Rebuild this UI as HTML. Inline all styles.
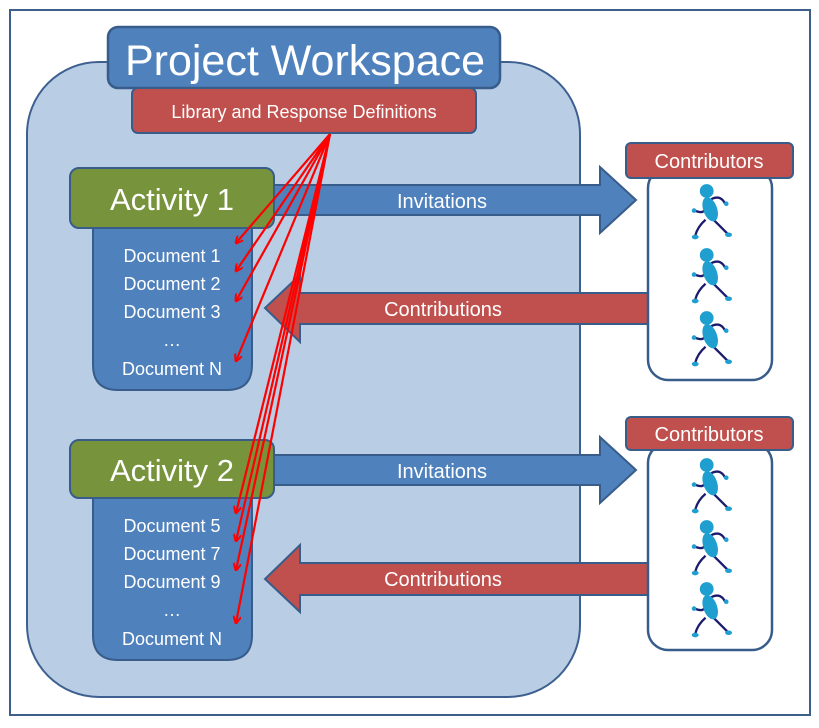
<!DOCTYPE html>
<html><head><style>
body{margin:0;background:#fff}
svg text{font-family:"Liberation Sans",sans-serif;fill:#fff}
</style></head><body>
<svg width="819" height="723" viewBox="0 0 819 723" xmlns="http://www.w3.org/2000/svg">
<defs>
<marker id="ah" markerWidth="8" markerHeight="8" refX="7" refY="4" orient="auto" markerUnits="userSpaceOnUse"><path d="M0,0 L8,4 L0,8" fill="none" stroke="#f00" stroke-width="2"/></marker>
<g id="fig" transform="scale(1.15)">
<path d="M-12,4 Q-4,8 -2,0 M2,-6 Q10,-10 14,-2 M-3,12 Q-10,18 -12,26 M4,12 Q10,18 16,24" stroke="#1b1b6e" stroke-width="2" fill="none"/>
<ellipse cx="0" cy="3" rx="6" ry="11" fill="#1e9fd0" transform="rotate(-20)"/>
<circle cx="-2" cy="-13" r="6" fill="#1e9fd0"/>
<circle cx="-13" cy="4" r="2" fill="#1e9fd0"/><circle cx="15" cy="-2" r="2" fill="#1e9fd0"/>
<ellipse cx="-12" cy="27" rx="3" ry="2" fill="#1e9fd0"/><ellipse cx="17" cy="25" rx="3" ry="2" fill="#1e9fd0"/>
</g>
</defs>
<rect x="10" y="10" width="800" height="705" fill="#fff" stroke="#3e5f8a" stroke-width="2"/>
<rect x="27" y="62" width="553" height="635" rx="72" fill="#b9cde5" stroke="#3e6090" stroke-width="2"/>
<rect x="108" y="27" width="392" height="61" rx="10" fill="#4f81bd" stroke="#385d8a" stroke-width="2.5"/>
<text x="305" y="75" font-size="43" text-anchor="middle">Project Workspace</text>
<rect x="132" y="88" width="344" height="45" rx="6" fill="#c0504d" stroke="#385d8a" stroke-width="2"/>
<text x="304" y="118" font-size="18" text-anchor="middle">Library and Response Definitions</text>

<path d="M93,228 H252 V365 Q252,390 227,390 H118 Q93,390 93,365 Z" fill="#4f81bd" stroke="#385d8a" stroke-width="2"/>
<g font-size="18" text-anchor="middle">
<text x="172" y="262">Document 1</text><text x="172" y="290">Document 2</text><text x="172" y="318">Document 3</text><text x="172" y="346">…</text><text x="172" y="375">Document N</text>
</g>
<rect x="70" y="168" width="204" height="60" rx="9" fill="#77933c" stroke="#385d8a" stroke-width="2"/>
<text x="172" y="210" font-size="31" text-anchor="middle">Activity 1</text>
<path d="M274,185 H600 V167 L636,200 L600,233 V215 H274 Z" fill="#4f81bd" stroke="#385d8a" stroke-width="2"/>
<text x="442" y="208" font-size="20" text-anchor="middle">Invitations</text>
<path d="M648,293 H300 V275 L265,308 L300,342 V324 H648 Z" fill="#c0504d" stroke="#385d8a" stroke-width="2"/>
<text x="443" y="316" font-size="20" text-anchor="middle">Contributions</text>
<rect x="648" y="168" width="124" height="212" rx="20" fill="#fff" stroke="#385d8a" stroke-width="2.5"/>
<rect x="626" y="143" width="167" height="35" rx="5" fill="#c0504d" stroke="#385d8a" stroke-width="2"/>
<text x="709" y="168" font-size="20" text-anchor="middle">Contributors</text>
<use href="#fig" x="709" y="206"/><use href="#fig" x="709" y="270"/><use href="#fig" x="709" y="333"/>

<path d="M93,498 H252 V635 Q252,660 227,660 H118 Q93,660 93,635 Z" fill="#4f81bd" stroke="#385d8a" stroke-width="2"/>
<g font-size="18" text-anchor="middle">
<text x="172" y="532">Document 5</text><text x="172" y="560">Document 7</text><text x="172" y="588">Document 9</text><text x="172" y="616">…</text><text x="172" y="645">Document N</text>
</g>
<rect x="70" y="440" width="204" height="58" rx="9" fill="#77933c" stroke="#385d8a" stroke-width="2"/>
<text x="172" y="481" font-size="31" text-anchor="middle">Activity 2</text>
<path d="M274,455 H600 V437 L636,470 L600,503 V485 H274 Z" fill="#4f81bd" stroke="#385d8a" stroke-width="2"/>
<text x="442" y="478" font-size="20" text-anchor="middle">Invitations</text>
<path d="M648,563 H300 V545 L265,579 L300,612 V595 H648 Z" fill="#c0504d" stroke="#385d8a" stroke-width="2"/>
<text x="443" y="586" font-size="20" text-anchor="middle">Contributions</text>
<rect x="648" y="443" width="124" height="207" rx="20" fill="#fff" stroke="#385d8a" stroke-width="2.5"/>
<rect x="626" y="417" width="167" height="33" rx="5" fill="#c0504d" stroke="#385d8a" stroke-width="2"/>
<text x="709" y="441" font-size="20" text-anchor="middle">Contributors</text>
<use href="#fig" x="709" y="480"/><use href="#fig" x="709" y="542"/><use href="#fig" x="709" y="604"/>

<g stroke="#f00" stroke-width="2.2" fill="none" marker-end="url(#ah)">
<line x1="330" y1="134" x2="236" y2="243"/>
<line x1="330" y1="134" x2="236" y2="271"/>
<line x1="330" y1="134" x2="236" y2="301"/>
<line x1="330" y1="134" x2="236" y2="361"/>
<line x1="330" y1="134" x2="236" y2="513"/>
<line x1="330" y1="134" x2="236" y2="541"/>
<line x1="330" y1="134" x2="236" y2="570"/>
<line x1="330" y1="134" x2="236" y2="623"/>
</g>
</svg>
</body></html>
